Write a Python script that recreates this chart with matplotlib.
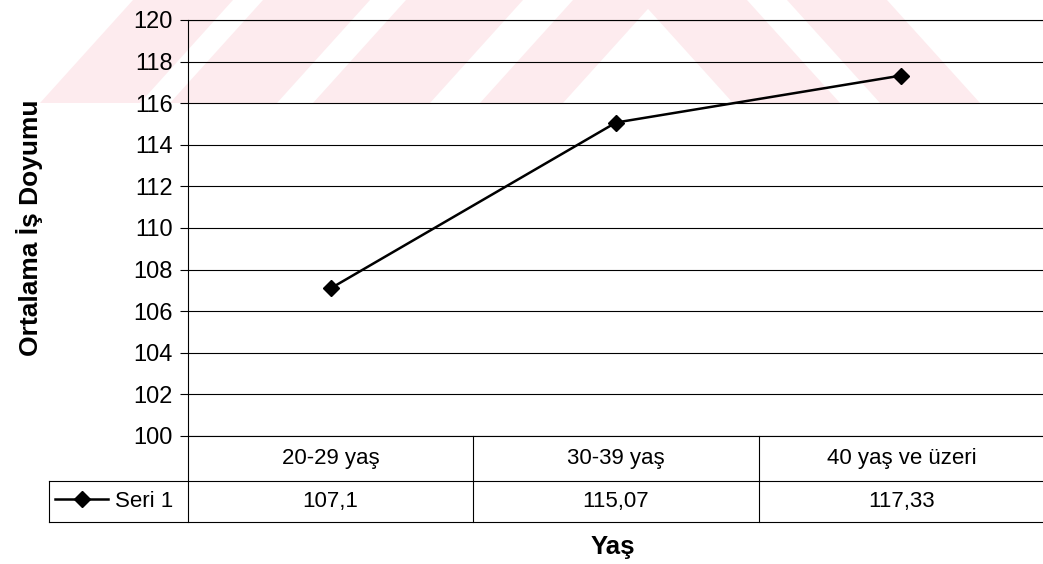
import matplotlib.pyplot as plt
from matplotlib.patches import Polygon

plt.rcParams['font.family'] = ['Liberation Sans', 'DejaVu Sans']

# age groups and mean job satisfaction
ages = ['20-29 yaş', '30-39 yaş', '40 yaş ve üzeri']
doyum = [107.1, 115.07, 117.33]
seri = 'Seri 1'
yticks = list(range(100, 121, 2))

W, H = 1043, 564
fig = plt.figure(figsize=(W / 100, H / 100), dpi=100)

# faint red stamp along the top edge
wm = fig.add_axes([0, 0, 1, 1], zorder=-1)
wm.set_xlim(0, W)
wm.set_ylim(H, 0)
wm.axis('off')
sh = 93
for a, b in [(40, 140), (170, 277), (313, 430), (480, 563)]:
    wm.add_patch(Polygon([(a, 103), (b, 103), (b + sh, 0), (a + sh, 0)],
                         closed=True, fc='#fdebee', ec='none'))
for a, b in [(733, 840), (880, 980)]:
    wm.add_patch(Polygon([(a, 103), (b, 103), (b - sh, 0), (a - sh, 0)],
                         closed=True, fc='#fdebee', ec='none'))

ax = fig.add_axes([188 / W, 128 / H, 856 / W, 416 / H])
ax.set_facecolor('none')
x = list(range(len(ages)))
line, = ax.plot(x, doyum, color='black', lw=1.8, marker='D', ms=8,
                mfc='black', mec='black', label=seri, zorder=3)
ax.set_xlim(-0.5, len(ages) - 0.5)
ax.set_ylim(100, 120)
ax.set_yticks(yticks)
ax.set_yticklabels([str(t) for t in yticks])
ax.set_xticks([])
ax.tick_params(axis='y', direction='out', length=6, width=0.8,
               labelsize=17, pad=5, colors='black')
ax.yaxis.grid(True, color='black', lw=0.8)
ax.set_axisbelow(True)
for s in ['top', 'right', 'bottom']:
    ax.spines[s].set_visible(False)
ax.spines['left'].set_linewidth(0.8)

# data table under the axis (x in data units, y in axes fraction)
tr = ax.get_xaxis_transform()
y0, y1, y2 = 0, -45 / 416, -86 / 416
x_lo, x_hi = -0.5, len(ages) - 0.5
x_leg = -0.5 - 139 / 285
kw = dict(color='black', lw=0.8, transform=tr, clip_on=False)
ax.plot([x_lo, x_hi + 0.01], [y0, y0], **kw)
ax.plot([x_lo, x_hi + 0.01], [1, 1], **kw)
ax.plot([x_leg, x_hi + 0.01], [y1, y1], **kw)
ax.plot([x_leg, x_hi + 0.01], [y2, y2], **kw)
ax.plot([x_leg, x_leg], [y1, y2], **kw)
for e in range(len(ages)):
    ax.plot([x_lo + e, x_lo + e], [y0, y2], **kw)
for i, (a, v) in enumerate(zip(ages, doyum)):
    ax.text(i, (y0 + y1) / 2, a, transform=tr, ha='center', va='center',
            fontsize=16)
    ax.text(i, (y1 + y2) / 2, str(v).replace('.', ','), transform=tr,
            ha='center', va='center', fontsize=16)

ax.legend(handles=[line], loc='center left',
          bbox_to_anchor=(55 / W, 1 - 501.5 / H), bbox_transform=fig.transFigure,
          frameon=False, fontsize=16, handlelength=2.4, handletextpad=0.3,
          borderpad=0, borderaxespad=0)

fig.text(30 / W, 1 - 228 / H, 'Ortalama İş Doyumu', rotation=90,
         ha='center', va='center', fontsize=19, fontweight='bold')
fig.text(613 / W, 1 - 547 / H, 'Yaş', ha='center', va='center',
         fontsize=18.5, fontweight='bold')

fig.savefig('out.png', dpi=100)
